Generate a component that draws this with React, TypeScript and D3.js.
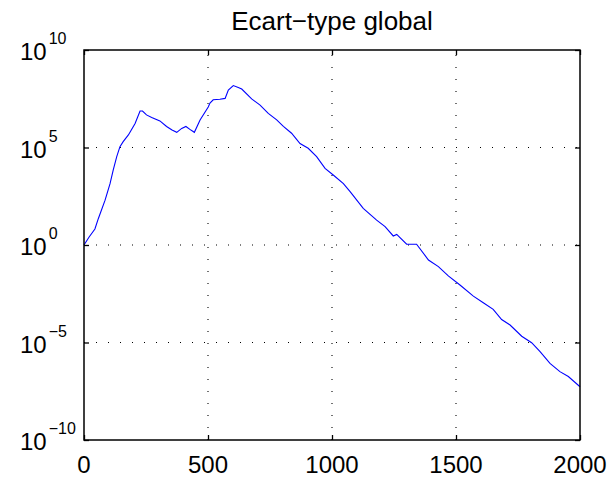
import React, { useEffect, useRef } from "react";
import * as d3 from "d3";

// iteration number vs global standard deviation
const iterations = [
  0, 20, 44, 58, 85, 105, 118, 132, 145, 158, 179, 206, 226, 236, 252, 273, 306, 333, 355, 374,
  394, 411, 427, 445, 468, 501, 508, 521, 548, 569, 582, 602, 622, 636, 676, 710, 743, 777, 804, 837,
  871, 904, 938, 972, 1005, 1046, 1073, 1126, 1180, 1214, 1247, 1261, 1301, 1341, 1389, 1429, 1469,
  1516, 1570, 1610, 1650, 1684, 1718, 1765, 1805, 1839, 1879, 1919, 1953, 2000,
];
const ecartType = [
  1, 2.5, 6.6, 23, 200, 1.4e3, 7.1e3, 3.4e4, 1.1e5, 2.0e5, 4.4e5, 1.7e6, 7.4e6, 7.4e6, 4.7e6,
  3.5e6, 2.3e6, 1.2e6, 7.9e5, 6.0e5, 9.5e5, 1.2e6, 8.5e5, 6.0e5, 2.6e6, 1.2e7, 1.9e7, 2.8e7, 3.0e7,
  3.3e7, 8.9e7, 1.5e8, 1.2e8, 1.0e8, 3.1e7, 1.5e7, 5.6e6, 2.6e6, 1.2e6, 5.4e5, 1.6e5, 9.1e4, 3.4e4,
  8.5e3, 3.9e3, 1.4e3, 540, 76, 19, 8.7, 2.9, 3.5, 1.1, 1.1, 0.17, 0.078, 0.026, 0.0089, 0.0024,
  0.0011, 5.0e-4, 1.5e-4, 7.9e-5, 2.1e-5, 9.8e-6, 3.4e-6, 8.5e-7, 3.2e-7, 1.8e-7, 5.4e-8,
];

const xTicks = [0, 500, 1000, 1500, 2000];
const yTicks = [1e-10, 1e-5, 1e0, 1e5, 1e10];
const yExponents = ["\u221210", "\u22125", "0", "5", "10"];
const title = "Ecart\u2212type global";

const FONT = "'Liberation Sans', Arial, Helvetica, sans-serif";

const App = () => {
  const svgRef = useRef<SVGSVGElement>(null);

  useEffect(() => {
    drawChart();
  }, []);

  const drawChart = () => {
    const width = 614;
    const height = 478;
    const margin = { top: 50, right: 34, bottom: 38, left: 84 };
    const w = width - margin.left - margin.right;
    const h = height - margin.top - margin.bottom;

    const root = d3.select(svgRef.current).attr("width", width).attr("height", height);
    root.selectAll("*").remove();

    root.append("rect").attr("width", width).attr("height", height).attr("fill", "#fff");

    const svg = root.append("g").attr("transform", `translate(${margin.left},${margin.top})`);

    const x = d3.scaleLinear().domain([0, 2000]).range([0, w]);
    const y = d3.scaleLog().domain([1e-10, 1e10]).range([h, 0]);

    // dotted grid
    svg
      .selectAll(".gx")
      .data(xTicks.slice(1, -1))
      .enter()
      .append("line")
      .attr("x1", (d) => x(d))
      .attr("x2", (d) => x(d))
      .attr("y1", h)
      .attr("y2", 0)
      .attr("stroke", "#000")
      .attr("stroke-width", 1.1)
      .attr("stroke-dasharray", "1,11");

    svg
      .selectAll(".gy")
      .data(yTicks.slice(1, -1))
      .enter()
      .append("line")
      .attr("x1", 0)
      .attr("x2", w)
      .attr("y1", (d) => y(d))
      .attr("y2", (d) => y(d))
      .attr("stroke", "#000")
      .attr("stroke-width", 1.1)
      .attr("stroke-dasharray", "1,11");

    // inward ticks on all four sides
    const tickStyle = (g) => {
      g.select(".domain").remove();
      g.selectAll("line").attr("stroke", "#000").attr("stroke-width", 1.3);
      g.selectAll("text").remove();
    };
    svg
      .append("g")
      .attr("transform", `translate(0,${h})`)
      .call(d3.axisBottom(x).tickValues(xTicks).tickSizeInner(-5).tickSizeOuter(0))
      .call(tickStyle);
    svg
      .append("g")
      .call(d3.axisTop(x).tickValues(xTicks).tickSizeInner(-5).tickSizeOuter(0))
      .call(tickStyle);
    svg
      .append("g")
      .call(d3.axisLeft(y).tickValues(yTicks).tickSizeInner(-5).tickSizeOuter(0))
      .call(tickStyle);
    svg
      .append("g")
      .attr("transform", `translate(${w},0)`)
      .call(d3.axisRight(y).tickValues(yTicks).tickSizeInner(-5).tickSizeOuter(0))
      .call(tickStyle);

    // curve
    const line = d3
      .line<number>()
      .x((d, i) => x(iterations[i]))
      .y((d) => y(d));
    svg
      .append("path")
      .datum(ecartType)
      .attr("d", line)
      .attr("fill", "none")
      .attr("stroke", "#0000ff")
      .attr("stroke-width", 1.1);

    // box
    svg
      .append("rect")
      .attr("width", w)
      .attr("height", h)
      .attr("fill", "none")
      .attr("stroke", "#000")
      .attr("stroke-width", 1.5);

    // x labels
    svg
      .selectAll(".xl")
      .data(xTicks)
      .enter()
      .append("text")
      .attr("x", (d) => x(d))
      .attr("y", h + 33)
      .attr("text-anchor", "middle")
      .style("font-family", FONT)
      .style("font-size", "24px")
      .text((d) => d);

    // y labels 10^n
    const yl = root
      .selectAll(".yl")
      .data(yTicks)
      .enter()
      .append("text")
      .attr("x", 20)
      .attr("y", (d) => margin.top + y(d) + 10)
      .style("font-family", FONT)
      .style("font-size", "24px");
    yl.append("tspan").text("10");
    yl.append("tspan")
      .attr("dx", 2)
      .attr("dy", -16)
      .style("font-size", "16px")
      .text((d, i) => yExponents[i]);

    // title
    root
      .append("text")
      .attr("x", margin.left + w / 2)
      .attr("y", 29.5)
      .attr("text-anchor", "middle")
      .style("font-family", FONT)
      .style("font-size", "26px")
      .text(title);
  };

  return <svg ref={svgRef} style={{ position: "absolute", left: 0, top: 0 }}></svg>;
};

export default App;
